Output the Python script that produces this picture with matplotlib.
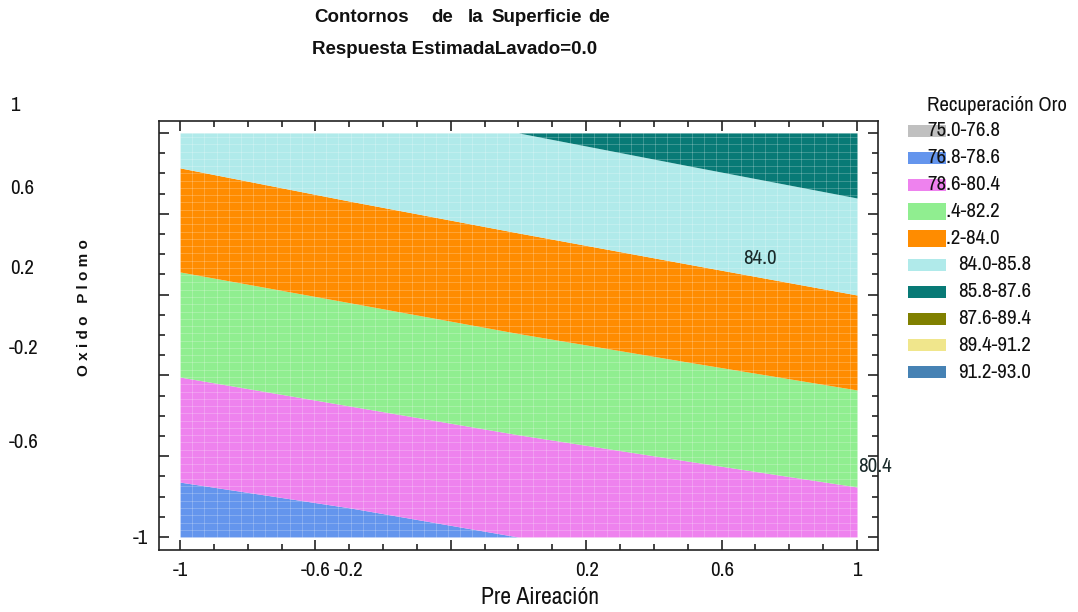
import numpy as np
import matplotlib
matplotlib.use("Agg")
import matplotlib.pyplot as plt
from matplotlib.patches import Rectangle

# valores (contornos casi rectos)
x_pts = [-1.0, -0.5, 0.0, 0.5, 1.0]
b786 = [-0.728, -0.855, -1.0, -1.0, -1.0]
b804 = [-0.208, -0.351, -0.494, -0.624, -0.752]
b822 = [0.312, 0.160, 0.007, -0.134, -0.272]
b840 = [0.827, 0.663, 0.505, 0.351, 0.198]
b858 = [1.0, 1.0, 1.0, 0.838, 0.678]
y_low = [-1.0, -1.0, -1.0, -1.0, -1.0]
y_high = [1.0, 1.0, 1.0, 1.0, 1.0]

rangos = ["75.0-76.8", "76.8-78.6", "78.6-80.4", "80.4-82.2", "82.2-84.0",
          "84.0-85.8", "85.8-87.6", "87.6-89.4", "89.4-91.2", "91.2-93.0"]
colores = ["#c0c0c0", "#6495ed", "#ee82ee", "#90ee90", "#ff8c00",
           "#b0eaea", "#087a76", "#808000", "#f0e68c", "#4682b4"]

xticks = [-1, -0.6, -0.2, 0.2, 0.6, 1]
xtick_lbl = ["-1", "-0.6", "-0.2", "0.2", "0.6", "1"]
ytick_lbl = ["1", "0.6", "0.2", "-0.2", "-0.6", "-1"]

W, H = 1078, 612
def fx(px):
    return px / W
def fy(py):
    return 1 - py / H

narrow = dict(family=["Archivo Narrow", "DejaVu Sans"])
txt_col = "#111111"

fig = plt.figure(figsize=(W / 100, H / 100), dpi=100)
ax = fig.add_axes([fx(159), fy(550), (878 - 159) / W, (550 - 121) / H])

bandas = [(y_low, b786, 1), (b786, b804, 2), (b804, b822, 3),
          (b822, b840, 4), (b840, b858, 5), (b858, y_high, 6)]
for lo, hi, k in bandas:
    ax.fill_between(x_pts, lo, hi, color=colores[k], linewidth=0)

# malla clara del relleno
for gx in np.arange(-1, 1.001, 0.036):
    ax.plot([gx, gx], [-1, 1], color="white", lw=0.5, alpha=0.3)
for gy in np.arange(-1, 1.001, 0.036):
    ax.plot([-1, 1], [gy, gy], color="white", lw=0.5, alpha=0.3)

ax.set_xlim(-1.062, 1.062)
ax.set_ylim(-1.064, 1.059)
ax.set_xticks(xticks)
ax.set_yticks(xticks)
ax.set_xticks(np.arange(-1, 1.01, 0.1), minor=True)
ax.set_yticks(np.arange(-1, 1.01, 0.1), minor=True)
ax.tick_params(which="both", direction="in", top=True, right=True,
               labelbottom=False, labelleft=False, width=1.2, color="#222222")
ax.tick_params(which="major", length=7)
ax.tick_params(which="minor", length=4.5)
for s in ax.spines.values():
    s.set_linewidth(1.2)
    s.set_color("#222222")

# etiquetas de contorno
ax.text(0.713, 0.381, "84.0", fontsize=15, color="#1a2a2a",
        ha="center", va="center", **narrow)
ax.text(1.053, -0.649, "80.4", fontsize=15, color="#1a2a2a",
        ha="center", va="center", clip_on=False, **narrow)

# etiquetas de ejes (posiciones como en el original)
xt_px = [180, 316, 349, 587, 722, 857]
for lbl, px in zip(xtick_lbl, xt_px):
    fig.text(fx(px), fy(570), lbl, fontsize=15, color=txt_col,
             ha="center", va="center", **narrow)
yt_px = [(10, 105), (10, 188), (10, 268), (9, 348), (9, 442), (133, 538)]
for lbl, (px, py) in zip(ytick_lbl, yt_px):
    fig.text(fx(px), fy(py), lbl, fontsize=15, color=txt_col,
             ha="left", va="center", **narrow)

fig.text(fx(540), fy(598), "Pre Aireación", fontsize=17,
         color=txt_col, ha="center", va="center", **narrow)
fig.text(fx(84), fy(308), "O x i d o   P l o m o", fontsize=11,
         family="Liberation Sans", weight="bold", rotation=90,
         ha="center", va="center", color=txt_col)

# titulo justificado
for w, px in [("Contornos", 362), ("de", 442), ("la", 476),
              ("Superficie", 537), ("de", 599)]:
    fig.text(fx(px), fy(17), w, fontsize=13.5, family="Liberation Sans",
             weight="bold", ha="center", va="center", color=txt_col)
fig.text(fx(312), fy(49), "Respuesta EstimadaLavado=0.0", fontsize=13.5,
         family="Liberation Sans", weight="bold", ha="left", va="center",
         color=txt_col)

# leyenda
fig.text(fx(927), fy(105), "Recuperación Oro", fontsize=15,
         color=txt_col, ha="left", va="center", **narrow)
for i, (lbl, c) in enumerate(zip(rangos, colores)):
    cy = 131 + 26.8 * i
    if i < 5:
        tx = 927
    else:
        tx = 958
    alto = 17 if i in (3, 4) else 12
    z_sw = 3 if i in (3, 4) else 1
    fig.patches.append(Rectangle((fx(908), fy(cy + alto / 2)), 38 / W, alto / H,
                                 transform=fig.transFigure, facecolor=c,
                                 edgecolor="none", zorder=z_sw))
    fig.text(fx(tx), fy(cy), lbl, fontsize=15, color=txt_col,
             ha="left", va="center", zorder=2, **narrow)

fig.savefig("out.png", dpi=100)
